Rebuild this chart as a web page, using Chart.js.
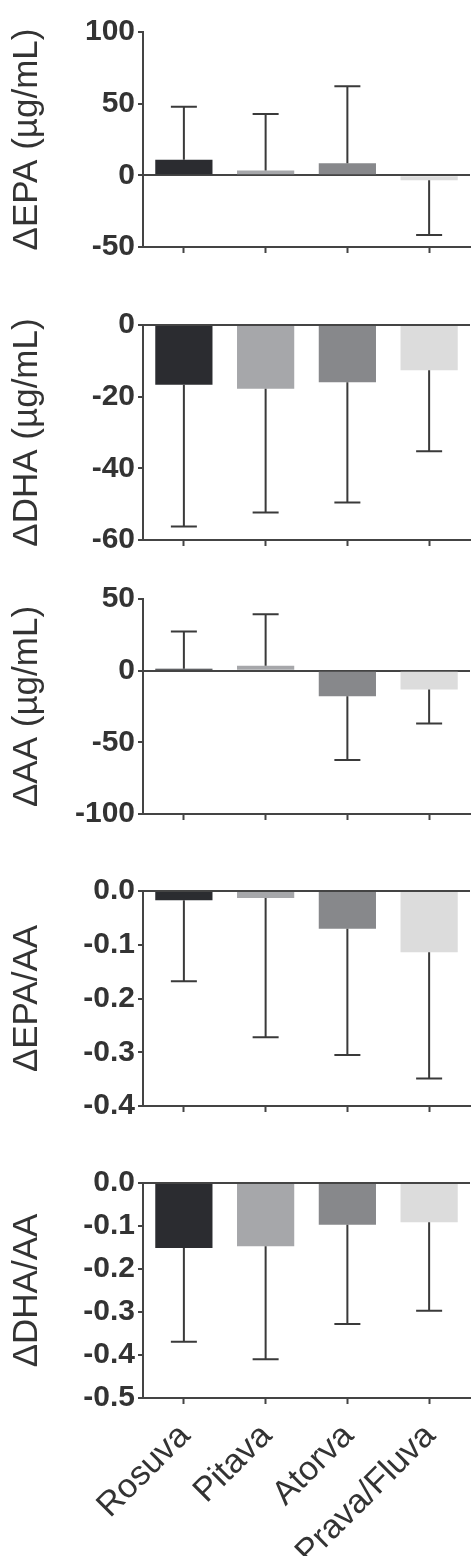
<!DOCTYPE html>
<html>
<head>
<meta charset="utf-8">
<title>Fatty acid change by statin</title>
<script src="https://cdn.jsdelivr.net/npm/chart.js@4.4.1/dist/chart.umd.min.js"></script>
<style>
  html, body { margin: 0; padding: 0; background: #fff; }
  #wrap { position: relative; width: 472px; height: 1556px; overflow: hidden; }
  #wrap canvas { position: absolute; left: 0; }
</style>
</head>
<body>
<div id="wrap"></div>
<script>
// -- data ----------------------------------------------------------------
const categories = ["Rosuva", "Pitava", "Atorva", "Prava/Fluva"];

// mean change and SD (error bar drawn away from zero)
const epaMean = [10.8, 3.4, 8.5, -3.4];
const epaSd = [37.1, 39.4, 53.7, 38.2];
const dhaMean = [-16.7, -17.8, -16.0, -12.6];
const dhaSd = [39.5, 34.5, 33.5, 22.6];
const aaMean = [1.4, 3.5, -17.9, -13.2];
const aaSd = [25.9, 35.9, 44.5, 23.7];
const epaAaMean = [-0.017, -0.013, -0.070, -0.114];
const epaAaSd = [0.151, 0.259, 0.235, 0.235];
const dhaAaMean = [-0.151, -0.147, -0.097, -0.091];
const dhaAaSd = [0.218, 0.263, 0.231, 0.206];

// y tick values per panel
const epaTicks = [-50, 0, 50, 100];
const dhaTicks = [-60, -40, -20, 0];
const aaTicks = [-100, -50, 0, 50];
const epaAaTicks = [-0.4, -0.3, -0.2, -0.1, 0];
const dhaAaTicks = [-0.5, -0.4, -0.3, -0.2, -0.1, 0];

(() => {
  "use strict";

  const FONT = "'Liberation Sans', Arial, Helvetica, sans-serif";
  const AXIS = "#444";
  const TEXT = "#333";
  const BAR_COLORS = ["#2b2c30", "#a6a7aa", "#87888b", "#dcdcdc"];

  const panels = [
    { title: "ΔEPA (µg/mL)", mean: epaMean, sd: epaSd, ticks: epaTicks, digits: 0 },
    { title: "ΔDHA (µg/mL)", mean: dhaMean, sd: dhaSd, ticks: dhaTicks, digits: 0 },
    { title: "ΔAA (µg/mL)", mean: aaMean, sd: aaSd, ticks: aaTicks, digits: 0 },
    { title: "ΔEPA/AA", mean: epaAaMean, sd: epaAaSd, ticks: epaAaTicks, digits: 1 },
    { title: "ΔDHA/AA", mean: dhaAaMean, sd: dhaAaSd, ticks: dhaAaTicks, digits: 1 },
  ];

  // layout: canvas top and height for each panel (chart area is 216px tall)
  const canvasTops = [11, 304, 578, 870, 1162];
  const canvasHeights = [262, 262, 262, 262, 394];

  // -- error bar plugin --------------------------------------------------
  const errorBars = {
    id: "errorBars",
    afterDatasetsDraw(chart, _args, opts) {
      const { ctx, scales: { x, y } } = chart;
      const means = chart.data.datasets[0].data;
      const sds = opts.sd || [];
      ctx.save();
      ctx.strokeStyle = "#3a3a3a";
      ctx.lineWidth = 2;
      means.forEach((m, i) => {
        const end = m >= 0 ? m + sds[i] : m - sds[i];
        const px = x.getPixelForValue(i);
        const y0 = y.getPixelForValue(m);
        const y1 = y.getPixelForValue(end);
        ctx.beginPath();
        ctx.moveTo(px, y0);
        ctx.lineTo(px, y1);
        ctx.moveTo(px - 13, y1);
        ctx.lineTo(px + 13, y1);
        ctx.stroke();
      });
      ctx.restore();
    },
  };

  function fmt(v, digits) {
    if (Math.abs(v) < 1e-9) v = 0;
    return v.toFixed(digits);
  }

  const wrap = document.getElementById("wrap");

  panels.forEach((p, idx) => {
    const last = idx === panels.length - 1;
    const canvas = document.createElement("canvas");
    canvas.width = 472;
    canvas.height = canvasHeights[idx];
    canvas.style.top = canvasTops[idx] + "px";
    wrap.appendChild(canvas);

    new Chart(canvas.getContext("2d"), {
      type: "bar",
      data: {
        labels: categories,
        datasets: [{
          data: p.mean,
          backgroundColor: BAR_COLORS,
          borderWidth: 0,
          barPercentage: 0.7,
          categoryPercentage: 1.0,
        }],
      },
      plugins: [errorBars],
      options: {
        responsive: false,
        animation: false,
        events: [],
        layout: { padding: { top: 20, right: 2, bottom: last ? 0 : 20, left: 0 } },
        plugins: {
          legend: { display: false },
          tooltip: { enabled: false },
          errorBars: { sd: p.sd },
        },
        scales: {
          x: {
            grid: {
              display: true,
              drawOnChartArea: false,
              drawTicks: true,
              offset: false,
              tickLength: 6,
              tickColor: AXIS,
              tickWidth: 2,
            },
            border: { display: true, color: AXIS, width: 2 },
            ticks: {
              display: last,
              autoSkip: false,
              minRotation: 45,
              maxRotation: 45,
              padding: 12,
              labelOffset: 1,
              color: TEXT,
              font: { family: FONT, size: 34 },
            },
            afterFit: (s) => { s.height = last ? 158 : 6; },
          },
          y: {
            min: Math.min(...p.ticks),
            max: Math.max(...p.ticks),
            afterBuildTicks: (s) => { s.ticks = p.ticks.map((v) => ({ value: v })); },
            grid: {
              color: (c) => (c.tick && Math.abs(c.tick.value) < 1e-9 ? AXIS : "transparent"),
              lineWidth: 2,
              drawTicks: true,
              tickLength: 5,
              tickColor: AXIS,
              tickWidth: 2,
            },
            border: { display: true, color: AXIS, width: 2 },
            ticks: {
              color: TEXT,
              padding: 3,
              font: { family: FONT, size: 30, weight: "bold" },
              callback: (v) => fmt(v, p.digits),
            },
            title: {
              display: true,
              text: p.title,
              color: TEXT,
              font: { family: FONT, size: 35 },
              padding: { top: 6, bottom: 0 },
            },
            afterFit: (s) => { s.width = 143; },
          },
        },
      },
    });
  });
})();
</script>
</body>
</html>
